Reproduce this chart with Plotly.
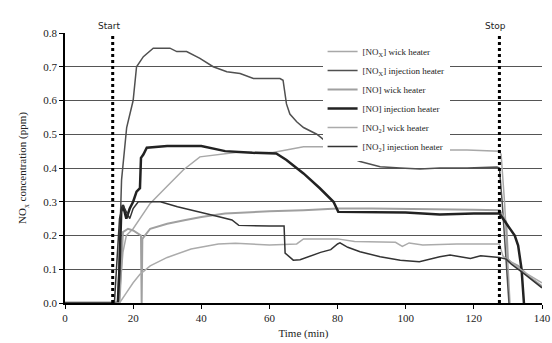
import plotly.graph_objects as go

# ---- data ----
nox_inj_t = [0, 15.5, 16.6, 18.1, 20, 21, 23, 25.9, 28.8, 30.8, 32.8, 35.7, 39.6, 43.5, 47.5, 51.4, 55.3, 60, 63.1, 64, 65, 66, 68, 70, 73.9, 77, 80.7, 86.6, 92.5, 98.4, 104.2, 110, 118, 126.8, 127.5, 128.3, 129.5, 130.3]
nox_inj_v = [0, 0, 0.365, 0.52, 0.60, 0.70, 0.73, 0.755, 0.755, 0.755, 0.745, 0.745, 0.725, 0.70, 0.685, 0.68, 0.665, 0.665, 0.665, 0.66, 0.59, 0.56, 0.537, 0.52, 0.50, 0.475, 0.443, 0.419, 0.404, 0.40, 0.397, 0.40, 0.40, 0.403, 0.40, 0.30, 0.10, 0.0]

nox_wick_t = [0, 15.8, 17, 18, 20, 25, 29.9, 34.7, 39.6, 44.5, 50, 61, 70, 83, 98.4, 100, 101.5, 104, 118, 127.5, 128, 129, 130, 130.6]
nox_wick_v = [0, 0, 0.15, 0.20, 0.22, 0.295, 0.345, 0.394, 0.433, 0.44, 0.446, 0.446, 0.463, 0.463, 0.463, 0.455, 0.468, 0.453, 0.453, 0.45, 0.44, 0.30, 0.12, 0.0]

no_wick_t = [0, 16, 17, 18.5, 20, 22.3, 22.5, 22.7, 25, 30, 35, 40, 47, 55, 60, 70, 80, 90, 100, 110, 120, 127.5, 128.5, 129.5, 130, 131, 133, 136, 140]
no_wick_v = [0, 0, 0.21, 0.22, 0.215, 0.20, 0.0, 0.19, 0.22, 0.235, 0.245, 0.255, 0.265, 0.27, 0.272, 0.275, 0.28, 0.28, 0.278, 0.278, 0.276, 0.275, 0.26, 0.24, 0.13, 0.12, 0.11, 0.08, 0.05]

no_inj_t = [0, 15.5, 16, 16.5, 17, 18, 19, 20, 21, 22, 22.3, 23, 24, 30, 40, 47, 55, 62, 65, 70, 74.8, 78.8, 80.2, 90, 100, 110, 120, 127.5, 128.5, 129.5, 130.5, 132, 133, 134, 134.7]
no_inj_v = [0, 0, 0.10, 0.27, 0.29, 0.25, 0.28, 0.30, 0.33, 0.34, 0.43, 0.44, 0.46, 0.465, 0.465, 0.45, 0.445, 0.443, 0.424, 0.384, 0.34, 0.30, 0.27, 0.27, 0.268, 0.262, 0.265, 0.265, 0.25, 0.235, 0.22, 0.20, 0.17, 0.10, 0.0]

no2_wick_t = [0, 16, 18, 20, 22, 25, 30, 37, 45, 50, 60, 68, 70, 80, 85, 97, 99, 101, 105, 115, 127.5, 128.5, 129.5, 131, 135, 140]
no2_wick_v = [0, 0, 0.03, 0.06, 0.085, 0.11, 0.135, 0.16, 0.175, 0.177, 0.172, 0.175, 0.19, 0.19, 0.182, 0.18, 0.168, 0.178, 0.172, 0.175, 0.175, 0.14, 0.13, 0.12, 0.09, 0.06]

no2_inj_t = [0, 14.5, 16, 17, 18, 19, 20, 21.5, 25, 28, 33, 39.6, 45.5, 49, 51, 60, 64.3, 64.6, 67, 69, 72, 75, 78, 80, 80.7, 83, 86.6, 92.5, 98.4, 104, 110, 113, 116, 119, 122, 125.8, 127.5, 129.5, 131, 135, 140]
no2_inj_v = [0, 0, 0.25, 0.29, 0.27, 0.25, 0.28, 0.30, 0.30, 0.30, 0.285, 0.27, 0.255, 0.246, 0.23, 0.228, 0.228, 0.148, 0.127, 0.128, 0.14, 0.15, 0.158, 0.175, 0.178, 0.165, 0.152, 0.137, 0.127, 0.122, 0.137, 0.142, 0.137, 0.132, 0.14, 0.138, 0.135, 0.13, 0.115, 0.085, 0.045]

start_t = 14.0
stop_t = 127.5
x_ticks = [0, 20, 40, 60, 80, 100, 120, 140]
y_ticks = [0.0, 0.1, 0.2, 0.3, 0.4, 0.5, 0.6, 0.7, 0.8]

series = [
    ("[NO<sub>X</sub>] wick heater", nox_wick_t, nox_wick_v, "#a8a8a8", 1.5),
    ("[NO<sub>X</sub>] injection heater", nox_inj_t, nox_inj_v, "#505050", 1.5),
    ("[NO] wick heater", no_wick_t, no_wick_v, "#a0a0a0", 2),
    ("[NO] injection heater", no_inj_t, no_inj_v, "#222222", 2.5),
    ("[NO<sub>2</sub>] wick heater", no2_wick_t, no2_wick_v, "#ababab", 1.5),
    ("[NO<sub>2</sub>] injection heater", no2_inj_t, no2_inj_v, "#333333", 1.5),
]

fig = go.Figure()
for name, t, v, col, w in series:
    fig.add_trace(go.Scatter(x=t, y=v, mode="lines", name=name,
                             line=dict(color=col, width=w)))

for t, label in [(start_t, "Start"), (stop_t, "Stop")]:
    fig.add_shape(type="line", x0=t, x1=t, y0=0, y1=0.8, xref="x", yref="y",
                  line=dict(color="black", width=3, dash="dot"))
    fig.add_annotation(x=t, y=0.8, xref="x", yref="y", text=label, showarrow=False,
                       yanchor="bottom", xshift=-4,
                       font=dict(family="DejaVu Sans", size=9, color="#222"))

serif = "Liberation Serif"
fig.update_layout(
    width=552, height=343,
    margin=dict(l=65, r=10, t=33, b=40),
    paper_bgcolor="white", plot_bgcolor="white",
    font=dict(family=serif, size=11, color="#222"),
    showlegend=True,
    legend=dict(x=0.54, y=0.985, xanchor="left", yanchor="top",
                bgcolor="white", font=dict(family=serif, size=9, color="#222"),
                tracegroupgap=0, itemwidth=30, borderwidth=0),
    xaxis=dict(range=[0, 140], tickvals=x_ticks, ticktext=[str(v) for v in x_ticks],
               automargin=False,
               showgrid=False, zeroline=False, showline=True, linecolor="black", linewidth=1.5,
               ticks="outside", ticklen=4, tickcolor="black",
               tickfont=dict(family=serif, size=11, color="#222"),
               title=dict(text="Time (min)", font=dict(family=serif, size=11), standoff=6)),
    yaxis=dict(range=[0, 0.8], tickvals=y_ticks, ticktext=[f"{v:.1f}" for v in y_ticks],
               automargin=False,
               showgrid=True, gridcolor="#555", gridwidth=1, zeroline=False,
               showline=True, linecolor="black", linewidth=1.5,
               ticks="outside", ticklen=4, tickcolor="black",
               tickfont=dict(family=serif, size=11, color="#222"),
               title=dict(text="NO<sub>x</sub> concentration (ppm)", font=dict(family=serif, size=11), standoff=14)),
)

fig.write_html("out.html")
